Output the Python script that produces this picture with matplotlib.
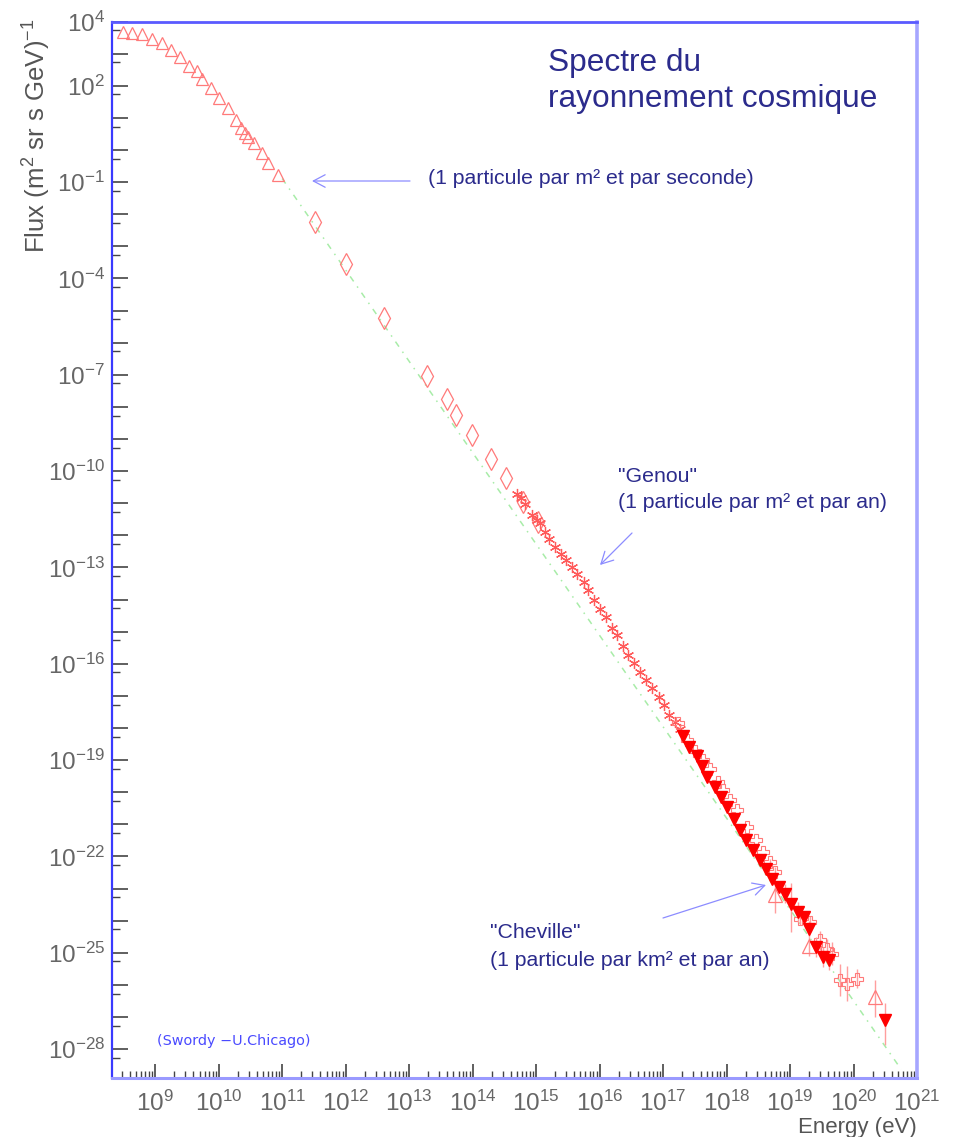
import numpy as np
import matplotlib
matplotlib.use('Agg')
import matplotlib.pyplot as plt
from matplotlib.patches import FancyArrowPatch
from matplotlib.ticker import FixedLocator, FuncFormatter, NullFormatter

# ---- data (log10 of energy in eV, log10 of flux) ----
tri_logE = [8.49, 8.63, 8.79, 8.95, 9.11, 9.25, 9.39, 9.54, 9.66, 9.74, 9.88,
            10.01, 10.15, 10.28, 10.35, 10.42, 10.47, 10.55, 10.68, 10.78, 10.94]
tri_logF = [3.66, 3.63, 3.61, 3.45, 3.32, 3.11, 2.89, 2.62, 2.46, 2.21, 1.94,
            1.61, 1.30, 0.93, 0.69, 0.54, 0.39, 0.22, -0.11, -0.42, -0.78]

dia_logE = [11.52, 12.01, 12.60, 13.28, 13.59, 13.74, 13.99, 14.29, 14.52, 14.80, 15.03]
dia_logF = [-2.24, -3.56, -5.23, -7.03, -7.76, -8.24, -8.88, -9.61, -10.21, -10.97, -11.60]

star_logE = [14.70, 14.76, 14.83, 14.93, 15.02, 15.06, 15.14, 15.21, 15.30, 15.39,
             15.47, 15.56, 15.65, 15.75, 15.82, 15.91, 16.00, 16.10, 16.19, 16.27,
             16.37, 16.45, 16.54, 16.64, 16.73, 16.82, 16.93, 17.01, 17.10, 17.19, 17.26]
star_logF = [-10.70, -10.85, -11.01, -11.37, -11.53, -11.63, -11.89, -12.10, -12.36, -12.59,
             -12.78, -13.00, -13.21, -13.45, -13.71, -14.02, -14.28, -14.54, -14.90, -15.11,
             -15.46, -15.74, -15.98, -16.26, -16.51, -16.77, -17.03, -17.29, -17.60, -17.81, -18.02]

cross_logE = [17.23, 17.38, 17.50, 17.63, 17.74, 17.86, 17.95, 18.06, 18.16, 18.32,
              18.47, 18.58, 18.69, 18.76, 19.16, 19.32, 19.47, 19.58, 19.66, 19.79,
              19.89, 20.05]
cross_logF = [-17.84, -18.36, -18.72, -19.01, -19.27, -19.68, -19.94, -20.25, -20.56, -21.08,
              -21.50, -21.86, -22.17, -22.49, -23.94, -24.04, -24.61, -24.87, -25.03, -25.86,
              -25.96, -25.81]
cross_err = [0, 0, 0, 0, 0, 0, 0, 0, 0, 0,
             0, 0, 0.1, 0.15, 0.2, 0.2, 0.3, 0.3, 0.35, 0.5,
             0.55, 0.3]

hi_tri_logE = [18.76, 19.30, 20.34]
hi_tri_logF = [-23.21, -24.80, -26.39]
hi_tri_up = [0.47, 0.3, 0.53]
hi_tri_dn = [0.56, 0.3, 0.62]

fill_logE = [17.31, 17.41, 17.53, 17.61, 17.70, 17.82, 17.91, 18.01, 18.12, 18.21,
             18.31, 18.41, 18.52, 18.62, 18.71, 18.82, 18.92, 19.01, 19.12, 19.22,
             19.30, 19.41, 19.52, 19.62, 20.50]
fill_logF = [-18.26, -18.59, -18.88, -19.19, -19.53, -19.84, -20.15, -20.46, -20.82, -21.17,
             -21.50, -21.81, -22.12, -22.38, -22.69, -22.95, -23.16, -23.47, -23.73, -23.89,
             -24.25, -24.82, -25.13, -25.24, -27.08]
fill_up = [0, 0, 0, 0, 0, 0, 0, 0, 0, 0,
           0, 0, 0, 0, 0, 0.2, 0.3, 0.63, 0.3, 0.2,
           0.25, 0.3, 0.3, 0.3, 0.5]
fill_dn = [0, 0, 0, 0, 0, 0, 0, 0, 0, 0,
           0, 0, 0, 0, 0, 0.2, 0.3, 0.89, 0.3, 0.2,
           0.25, 0.3, 0.3, 0.3, 0.8]

# reference power law (green dashed)
ref_logE = [11.0, 20.75]
ref_logF = [-0.89, -28.63]

y_labelled = [4, 2, -1, -4, -7, -10, -13, -16, -19, -22, -25, -28]

W, H = 957, 1137


def fp(x, y):
    return x / W, 1 - y / H


def errs(logF, up, dn):
    logF = np.array(logF)
    F = 10.0 ** logF
    return [F - 10.0 ** (logF - np.array(dn)), 10.0 ** (logF + np.array(up)) - F]


plt.rcParams['font.family'] = ['Liberation Sans', 'DejaVu Sans']
plt.rcParams['mathtext.fontset'] = 'custom'
plt.rcParams['mathtext.rm'] = 'Liberation Sans'
plt.rcParams['mathtext.it'] = 'Liberation Sans:italic'

fig = plt.figure(figsize=(W / 100, H / 100), dpi=100)
ax = fig.add_axes([112 / W, 1 - 1078 / H, 805 / W, 1056.5 / H])
ax.set_xscale('log')
ax.set_yscale('log')
ax.set_xlim(10 ** 8.32, 1e21)
ax.set_ylim(10 ** -28.9, 1e4)

pink = '#ff7a7a'
ebar = '#ff9e9e'

ax.plot(10.0 ** np.array(ref_logE), 10.0 ** np.array(ref_logF), color='#a8eca8',
        lw=1.1, ls=(0, (4, 4, 1, 4)), zorder=1)

ax.plot(10.0 ** np.array(tri_logE), 10.0 ** np.array(tri_logF), ls='none', marker='^',
        ms=9, mfc='none', mec=pink, mew=0.9, zorder=3)
ax.plot(10.0 ** np.array(dia_logE), 10.0 ** np.array(dia_logF), ls='none', marker='d',
        ms=11, mfc='none', mec=pink, mew=0.9, zorder=3)
ax.plot(10.0 ** np.array(star_logE), 10.0 ** np.array(star_logF), ls='none', marker=(6, 2, 0),
        ms=8, color='#ff5a5a', mew=0.9, zorder=3)
ax.errorbar(10.0 ** np.array(cross_logE), 10.0 ** np.array(cross_logF),
            yerr=errs(cross_logF, cross_err, cross_err), ls='none', marker='P', ms=9,
            mfc='none', mec=pink, mew=0.8, ecolor=ebar, elinewidth=1, zorder=3)
ax.errorbar(10.0 ** np.array(hi_tri_logE), 10.0 ** np.array(hi_tri_logF),
            yerr=errs(hi_tri_logF, hi_tri_up, hi_tri_dn), ls='none', marker='^', ms=10,
            mfc='none', mec=pink, mew=0.9, ecolor=ebar, elinewidth=1, zorder=3)
ax.errorbar(10.0 ** np.array(fill_logE), 10.0 ** np.array(fill_logF),
            yerr=errs(fill_logF, fill_up, fill_dn), ls='none', marker='v', ms=9,
            color='#ff0000', ecolor=ebar, elinewidth=1, zorder=4)

# axes frame
for side, col, lw in [('left', '#3a3aff', 1.6), ('top', '#5a5aff', 2.0),
                      ('right', '#a6a6ff', 2.6), ('bottom', '#9a9aff', 2.2)]:
    ax.spines[side].set_color(col)
    ax.spines[side].set_linewidth(lw)

# x ticks
ax.xaxis.set_major_locator(FixedLocator([10.0 ** n for n in range(9, 22)]))
ax.xaxis.set_minor_locator(FixedLocator([m * 10.0 ** n for n in range(8, 21) for m in range(2, 10)]))
ax.xaxis.set_major_formatter(FuncFormatter(lambda v, p: r'$10^{%d}$' % round(np.log10(v))))
ax.xaxis.set_minor_formatter(NullFormatter())

# y ticks
ax.yaxis.set_major_locator(FixedLocator([10.0 ** n for n in range(-28, 5)]))
ax.yaxis.set_minor_locator(FixedLocator([10.0 ** (n - 0.27) for n in range(-28, 5)]))


def ylab(v, p):
    n = round(np.log10(v))
    return r'$10^{%d}$' % n if n in y_labelled else ''


ax.yaxis.set_major_formatter(FuncFormatter(ylab))
ax.yaxis.set_minor_formatter(NullFormatter())

ax.tick_params(which='both', direction='in', color='#444444', top=False, right=False,
               labelcolor='#666666', labelsize=17.5)
ax.tick_params(axis='x', which='major', length=10, width=1.2, pad=9)
ax.tick_params(axis='x', which='minor', length=5, width=1.0)
ax.tick_params(axis='y', which='major', length=11.5, width=1.2, pad=5)
ax.tick_params(axis='y', which='minor', length=6, width=1.0)

# texts
navy = '#2b2b8c'
fig.text(*fp(548, 71), 'Spectre du', fontsize=22.8, color=navy, va='baseline')
fig.text(*fp(548, 107), 'rayonnement cosmique', fontsize=22.8, color=navy, va='baseline')

fig.text(*fp(428, 178), '(1 particule par m² et par seconde)', fontsize=15.3, color=navy,
         va='center')
fig.text(*fp(618, 476), '"Genou"', fontsize=15.3, color=navy, va='center')
fig.text(*fp(618, 503), '(1 particule par m² et par an)', fontsize=15.3, color=navy,
         va='center')
fig.text(*fp(490, 932), '"Cheville"', fontsize=15.3, color=navy, va='center')
fig.text(*fp(490, 960), '(1 particule par km² et par an)', fontsize=15.3, color=navy,
         va='center')
fig.text(*fp(157, 1041), '(Swordy \u2212U.Chicago)', fontsize=10.4, color='#4a4aff',
         va='center', family='DejaVu Sans')

arrow = dict(arrowstyle='->,head_length=0.85,head_width=0.45', color='#8c8cff', lw=0.9,
             mutation_scale=10, shrinkA=0, shrinkB=0)
for start, end in [((410, 181), (312, 181)), ((632, 533), (600, 565)),
                   ((663, 918), (766, 885))]:
    fig.add_artist(FancyArrowPatch(fp(*start), fp(*end), transform=fig.transFigure, **arrow))

fig.text(*fp(37, 18), r'Flux (m$^2$ sr s GeV)$^{-1}$', rotation=90, fontsize=18.5,
         color='#555555', ha='center', va='top')
fig.text(*fp(917, 1128), 'Energy (eV)', fontsize=16, color='#555555', ha='right',
         va='center')

fig.savefig('out.png', dpi=100)
